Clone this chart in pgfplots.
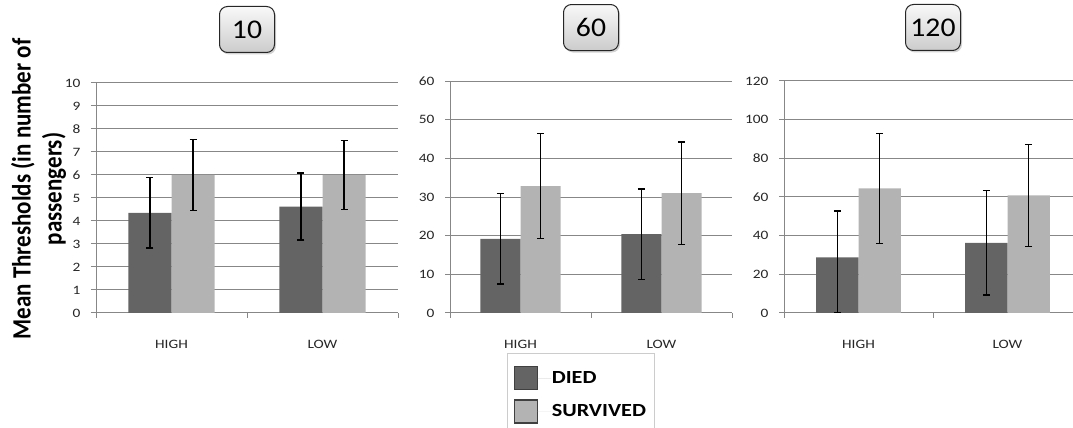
\documentclass[border=0pt]{standalone}
\usepackage{fontspec}
\setmainfont{Carlito}
\newfontfamily\cw[FakeStretch=1.2]{Carlito}
\newfontfamily\cwt[FakeStretch=1.1]{Carlito}
\usepackage{graphicx}
\usepackage{pgfplots}
\pgfplotsset{compat=1.18}
\usetikzlibrary{shadows}
\definecolor{died}{HTML}{646464}
\definecolor{surv}{HTML}{B3B3B3}
\definecolor{gridc}{HTML}{878787}
\pgfplotsset{
  panel/.style={
    ybar, scale only axis, height=231pt,
    xmin=-0.5, xmax=1.5, ymin=0,
    xtick={-0.5,0.5,1.5}, xticklabels={HIGH,LOW}, x tick label as interval,
    axis x line*=bottom, axis y line*=left,
    axis line style={gridc, line width=1pt},
    tick align=outside, major tick length=5pt,
    tick style={gridc, line width=1pt},
    ymajorgrids, grid style={gridc, line width=1pt},
    bar width=0.285,
    tick label style={font=\cw\fontsize{12.8}{14}\selectfont, text=black!85},
    /pgf/number format/assume math mode=true,
    xticklabel style={yshift=-19pt},
    yticklabel style={xshift=-7pt},
    title style={at={(0.5,1)}, anchor=south, yshift=24pt, draw=black!85,
      line width=1pt, rounded corners=8pt, top color=gray!5, bottom color=gray!40,
      minimum width=55pt, minimum height=46pt, inner sep=2pt,
      font=\cwt\fontsize{27}{30}\selectfont, drop shadow={opacity=0.35, shadow xshift=1.5pt, shadow yshift=-2pt}},
  },
  ebars/.style={
    error bars/y dir=both, error bars/y explicit,
    error bars/error bar style={black, line width=1.3pt},
    error bars/error mark options={rotate=90, black, line width=1.3pt, mark size=3.5pt}},
  sqlegend/.style={legend image code/.code={\draw[##1, draw=black!75, line width=1.2pt] (0pt,-11.5pt) rectangle (23pt,11.5pt); \path (0pt,0pt) -- (36pt,0pt);}},
  dstyle/.style={fill=died, draw=none, bar shift=-0.1425, ebars, sqlegend},
  sstyle/.style={fill=surv, draw=none, bar shift=0.1425, ebars, sqlegend},
}
\begin{document}
\begin{tikzpicture}
\useasboundingbox (0pt,0pt) rectangle (1073pt,428pt);
\node[rotate=90, inner sep=0pt] at (40pt,239pt) {\fontsize{23}{27}\selectfont\bfseries\scalebox{1}[1.15]{\begin{tabular}{@{}c@{}}Mean Thresholds (in number of\\passengers)\end{tabular}}};
% Panel 10
\begin{axis}[panel, at={(96pt,115pt)}, anchor=south west, width=302pt, height=230pt,
  ymax=10, ytick={0,1,...,10}, title={10}]
\addplot+[dstyle] coordinates {(0,4.35) +- (0,1.53) (1,4.63) +- (0,1.46)};
\addplot+[sstyle] coordinates {(0,6.0) +- (0,1.55) (1,6.0) +- (0,1.51)};
\end{axis}
% Panel 60
\begin{axis}[panel, at={(450pt,115pt)}, anchor=south west, width=282pt, height=232pt,
  ymax=60, ytick={0,10,...,60}, title={60},
  legend style={at={(0.202,-0.172)}, anchor=north west, draw=black!20, fill=white,
    font=\cw\fontsize{18.5}{20}\selectfont\bfseries, inner xsep=7pt, inner ysep=13pt,
    row sep=9pt, nodes={inner sep=1pt, anchor=west}},
  legend cell align=left]
\addplot+[dstyle] coordinates {(0,19.2) +- (0,11.7) (1,20.4) +- (0,11.7)};
\addplot+[sstyle] coordinates {(0,32.8) +- (0,13.6) (1,31.0) +- (0,13.2)};
\legend{DIED,SURVIVED}
\end{axis}
% Panel 120
\begin{axis}[panel, at={(784pt,115pt)}, anchor=south west, width=298pt, height=232pt,
  ymax=120, ytick={0,20,...,120}, title={120}]
\addplot+[dstyle] coordinates {(0,28.8) += (0,24.0) -= (0,28.8) (1,36.3) +- (0,27.0)};
\addplot+[sstyle] coordinates {(0,64.5) +- (0,28.4) (1,60.8) +- (0,26.4)};
\end{axis}
\end{tikzpicture}
\end{document}
